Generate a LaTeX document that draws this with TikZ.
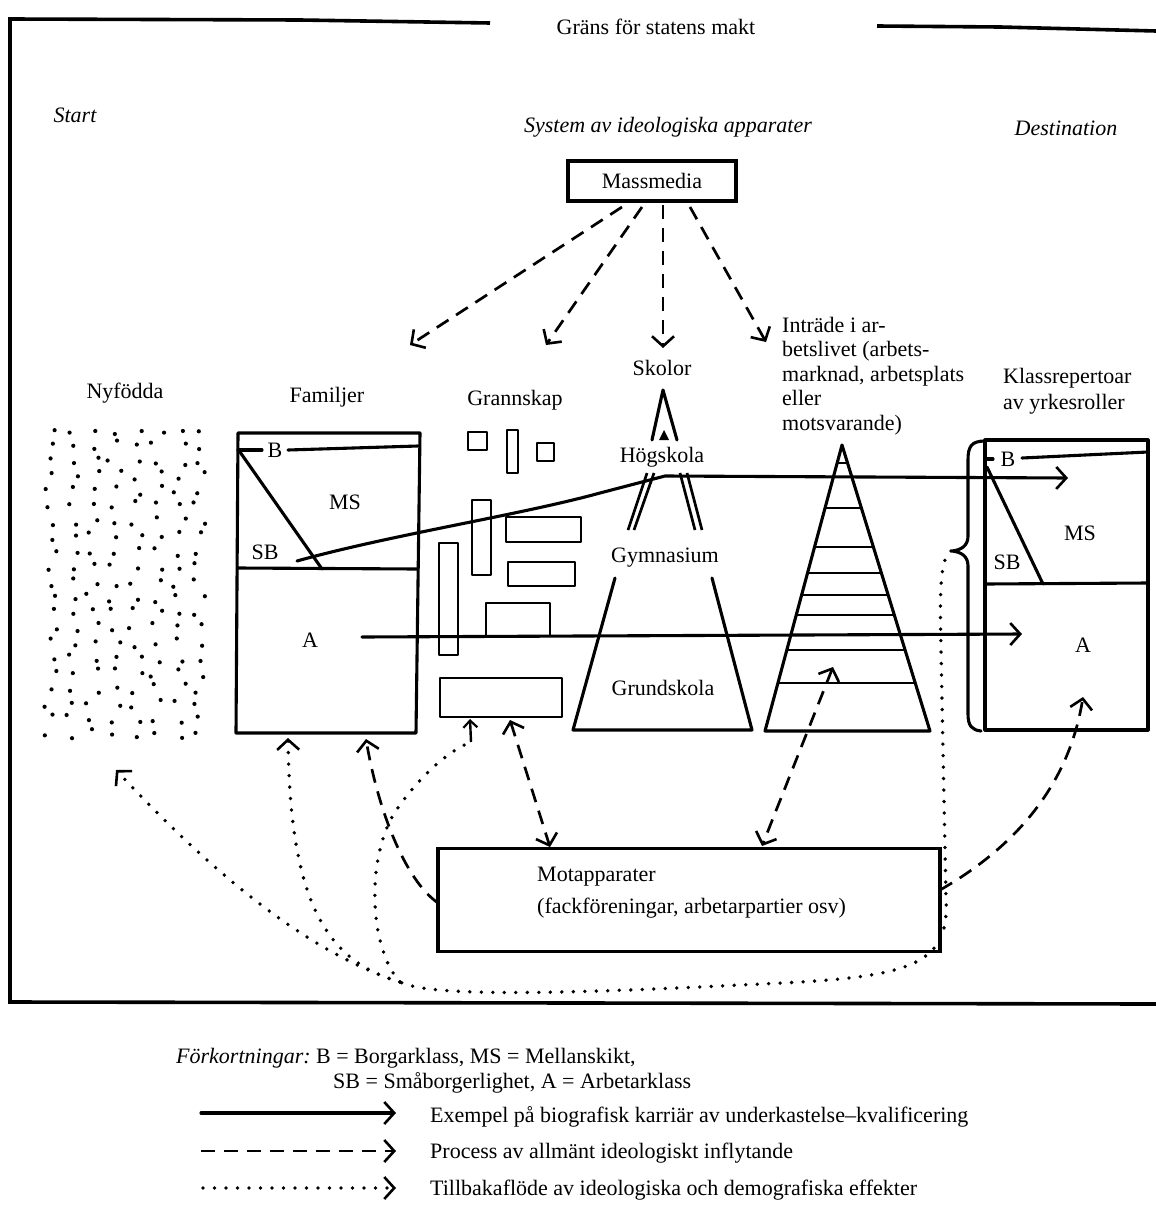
\documentclass[tikz,border=0pt]{standalone}
\usepackage{fontspec}
\setmainfont{Liberation Serif}
\usetikzlibrary{arrows.meta}
\begin{document}
\begin{tikzpicture}[x=1pt,y=-1pt,
  every node/.style={font=\fontsize{22}{26}\selectfont, inner sep=0pt},
  itl/.style={font=\fontsize{22}{26}\selectfont\itshape},
  heavy/.style={line width=3.1pt, line join=round, line cap=round},
  med/.style={line width=2.7pt, line join=round},
  barb/.style={-{Straight Barb[length=10pt,width=22pt,line width=2.6pt]}},
  dbarb/.style={{Straight Barb[length=10pt,width=22pt,line width=2.6pt]}-{Straight Barb[length=10pt,width=22pt,line width=2.6pt]}},
  dashedline/.style={line width=2.7pt, dash pattern=on 14pt off 9pt},
  dottedline/.style={line width=3.8pt, line cap=round, dash pattern=on 0pt off 11.5pt},
]
\useasboundingbox (0,0) rectangle (1156,1207);
\fill[white] (0,0) rectangle (1156,1207);

% ---- frame: Gräns för statens makt
\draw[line width=3.6pt] (490,23) -- (300,20) -- (10,19) -- (10,1002) -- (1156,1004);
\draw[line width=3.6pt] (877,26) -- (1000,27) -- (1156,31);
\node (grans) at (656,27) {Gräns för statens makt};

% ---- headings
\node[itl] (start) at (75,115) {Start};
\node[itl] (system) at (668,127) {System av ideologiska apparater};
\node[itl] (dest) at (1066,128) {Destination};

% ---- Massmedia
\node[draw, line width=3.1pt, minimum width=168, minimum height=40] (mm) at (652,181) {Massmedia};
\coordinate (m1) at (622,207);
\coordinate (m2) at (642,207);
\coordinate (m3) at (663,205);
\coordinate (m4) at (690,207);
\coordinate (tFam) at (410,345);
\coordinate (tGran) at (546,345);
\coordinate (tSkol) at (663,348);
\coordinate (tArb) at (766,342);
\draw[dashedline, barb] (m1) -- (tFam);
\draw[dashedline, barb] (m2) -- (tGran);
\draw[dashedline, barb] (m3) -- (tSkol);
\draw[dashedline, barb] (m4) -- (tArb);

% ---- column labels
\node (skolor) at (662,368) {Skolor};
\node[align=left, anchor=north west, font=\fontsize{22}{24.5}\selectfont] (arb) at (782,317)
  {Inträde i ar-\\betslivet (arbets-\\marknad, arbetsplats\\eller\\motsvarande)};
\node (nyf) at (125,393) {Nyfödda};
\node (fam) at (327,397) {Familjer};
\node (gran) at (515,400) {Grannskap};
\node[align=left, anchor=north west] (klass) at (1003,368) {Klassrepertoar\\av yrkesroller};

% ---- Nyfödda dots
\pgfmathsetseed{11}
\foreach \i in {1,...,8}{
  \foreach \j in {1,...,21}{
    \pgfmathsetmacro\dx{50+(\i-1)*21.5+7*rand}
    \pgfmathsetmacro\dy{430+(\j-1)*15.2+5*rand}
    \fill (\dx,\dy) circle (2.1);
  }
}

% ---- Familjer box
\draw[heavy] (238,433) -- (420,433) -- (416,733) -- (236,733) -- cycle;
\draw[heavy] (238,450) -- (262,450);
\node (famB) at (275,450) {B};
\draw[heavy] (288,450) -- (418,446);
\draw[heavy] (238,568) -- (417,569);
\draw[heavy] (240,452) -- (322,569);
\node (famMS) at (345,502) {MS};
\node (famSB) at (265,552) {SB};
\node (famA) at (310,640) {A};

% ---- Grannskap blocks
\draw[med] (468,432) rectangle (487,450);
\draw[med] (507,430) rectangle (518,473);
\draw[med] (537,443) rectangle (554,461);
\draw[med] (472,500) rectangle (491,575);
\draw[med] (506,517) rectangle (581,542);
\draw[med] (508,562) rectangle (575,586);
\draw[med] (439,543) rectangle (458,655);
\draw[med] (486,637) -- (486,603) -- (550,603) -- (550,637);
\draw[med] (440,678) rectangle (562,717);

% ---- Skolor shape
\draw[heavy] (652,440) -- (663,390) -- (677,440);
\fill (659,440) -- (664,430) -- (669,440) -- cycle;
\node (hogsk) at (662,457) {Högskola};
\draw[med] (647,473) -- (628,530);
\draw[med] (654,473) -- (634,530);
\draw[med] (680,473) -- (695,530);
\draw[med] (687,473) -- (702,530);
\node (gymn) at (665,558) {Gymnasium};
\draw[heavy] (615,578) -- (573,730) -- (752,730) -- (712,578);
\node (grund) at (663,688) {Grundskola};

% ---- Arbetsliv pyramid
\draw[heavy] (765,731) -- (842,445) -- (930,731) -- cycle;
\draw[med] (837.2,463) -- (847.5,463);
\draw[med] (825.0,508) -- (861.4,508);
\draw[med] (814.5,547) -- (873.4,547);
\draw[med] (807.5,573) -- (881.4,573);
\draw[med] (801.6,595) -- (888.2,595);
\draw[med] (796.2,615) -- (894.3,615);
\draw[med] (786.8,650) -- (905.1,650);
\draw[med] (777.9,683) -- (915.2,683);

% ---- brace
\draw[heavy] (985,441) .. controls (971,441) and (968,447) .. (968,460) -- (968,536)
  .. controls (968,546) and (961,550) .. (952,551)
  .. controls (961,552) and (968,556) .. (968,566) -- (968,714)
  .. controls (968,726) and (972,730) .. (981,731);

% ---- Klassrepertoar box
\draw[heavy] (985,440) -- (1148,440) -- (1148,730) -- (985,730) -- cycle;
\draw[heavy] (986,459) -- (993,459);
\node (klB) at (1008,459) {B};
\draw[heavy] (1022,458) -- (1148,452);
\draw[heavy] (987,467) -- (1043,584);
\draw[heavy] (985,584) -- (1148,583);
\node (klMS) at (1080,533) {MS};
\node (klSB) at (1007,562) {SB};
\node (klA) at (1083,645) {A};

% ---- career arrows
\coordinate (sbStart) at (297,561);
\coordinate (msEnd) at (1068,478);
\draw[heavy, barb] (sbStart) .. controls (390,535) and (520,515) .. (600,493)
  -- (642,482) -- (665,476) -- (msEnd);
\coordinate (aStart) at (362,637);
\coordinate (aEnd) at (1022,634);
\draw[heavy, barb] (aStart) -- (aEnd);

% ---- Motapparater
\node[draw, line width=3.1pt, minimum width=502, minimum height=103] (mot) at (689,900) {};
\node[align=left, anchor=west, font=\fontsize{22}{32}\selectfont] (mottext) at (537,893)
  {Motapparater\\(fackföreningar, arbetarpartier osv)};

\coordinate (motN1) at (550,847);
\coordinate (granBot) at (510,720);
\draw[dashedline, dbarb] (granBot) -- (motN1);
\coordinate (motN2) at (762,846);
\coordinate (pyrTip) at (833,667);
\draw[dashedline, dbarb] (pyrTip) -- (motN2);
\coordinate (motL) at (438,903);
\coordinate (famTipR) at (366,739);
\draw[dashedline, barb] (motL) .. controls (405,880) and (378,810) .. (famTipR);
\coordinate (motR) at (940,890);
\coordinate (klTip) at (1083,697);
\draw[dashedline, barb] (motR) .. controls (1010,850) and (1068,790) .. (klTip);

% ---- feedback (dotted)
\coordinate (braceTip) at (951,551);
\coordinate (hub) at (400,982);
\draw[dottedline] (braceTip) .. controls (939,558) and (940,600) .. (941,650)
  -- (946,900) .. controls (950,972) and (900,978) .. (740,985)
  .. controls (560,994) and (430,997) .. (hub);
\coordinate (nyTip) at (116,770);
\draw[dottedline, barb] (hub) .. controls (300,950) and (200,860) .. (nyTip);
\coordinate (famTipL) at (288,738);
\draw[dottedline, barb] (hub) .. controls (320,960) and (290,890) .. (famTipL);
\coordinate (granV) at (471,742);
\coordinate (granTip) at (470,719);
\draw[dottedline] (hub) .. controls (370,950) and (365,860) .. (395,812)
  .. controls (420,775) and (450,750) .. (granV);
\draw[line width=2.4pt, -{Straight Barb[length=7pt,width=14pt,line width=2.2pt]}] (granV) -- (granTip);

% ---- legend
\node[anchor=west] (abbr1) at (176,1058) {\itshape Förkortningar:\upshape\ B = Borgarklass, MS = Mellanskikt,};
\node[anchor=west] (abbr2) at (333,1083) {SB = Småborgerlighet, A = Arbetarklass};
\coordinate (l1a) at (201,1113);
\coordinate (l1b) at (396,1113);
\draw[heavy, barb] (l1a) -- (l1b);
\node[anchor=west] (leg1) at (430,1117) {Exempel på biografisk karriär av underkastelse–kvalificering};
\coordinate (l2a) at (201,1151);
\coordinate (l2b) at (396,1151);
\draw[dashedline, barb] (l2a) -- (l2b);
\node[anchor=west] (leg2) at (430,1153) {Process av allmänt ideologiskt inflytande};
\coordinate (l3a) at (203,1188);
\coordinate (l3b) at (396,1188);
\draw[dottedline, barb] (l3a) -- (l3b);
\node[anchor=west] (leg3) at (430,1190) {Tillbakaflöde av ideologiska och demografiska effekter};
\end{tikzpicture}
\end{document}
